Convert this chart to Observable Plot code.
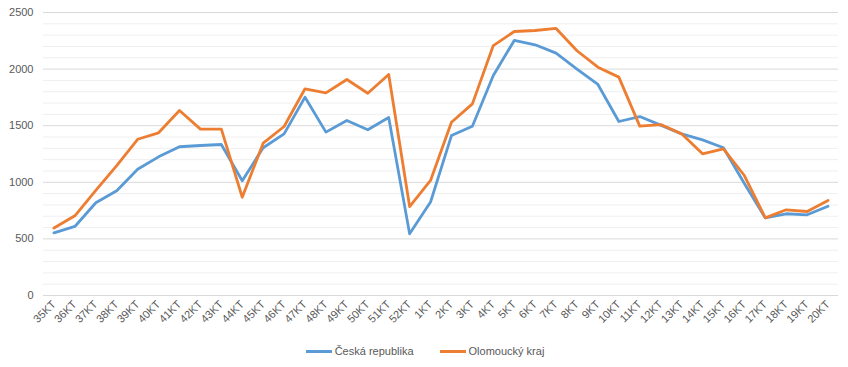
<!DOCTYPE html>
<html>
<head>
<meta charset="utf-8">
<script src="https://cdn.jsdelivr.net/npm/d3@7"></script>
<script src="https://cdn.jsdelivr.net/npm/@observablehq/plot@0.6"></script>
<style>
  body { margin: 0; background: #fff; font-family: "Liberation Sans", Arial, sans-serif; }
  #legend { display: flex; justify-content: center; align-items: center; gap: 26px; height: 32px; font-size: 11px; color: #595959; padding-left: 2px; }
  #legend .item { display: flex; align-items: center; }
  #legend .swatch { width: 26px; height: 3px; margin-right: 3px; }
</style>
</head>
<body>
<div id="chart"></div>
<div id="legend"></div>
<script>
const categories = ["35KT","36KT","37KT","38KT","39KT","40KT","41KT","42KT","43KT","44KT","45KT","46KT","47KT","48KT","49KT","50KT","51KT","52KT","1KT","2KT","3KT","4KT","5KT","6KT","7KT","8KT","9KT","10KT","11KT","12KT","13KT","14KT","15KT","16KT","17KT","18KT","19KT","20KT"];
const ceskaRepublika = [554,610,819,925,1115,1225,1314,1325,1334,1014,1305,1428,1752,1443,1546,1464,1572,545,826,1413,1495,1943,2253,2215,2141,2000,1864,1537,1581,1505,1428,1375,1305,990,686,722,713,789];
const olomouckyKraj = [596,704,928,1148,1380,1437,1634,1470,1470,868,1346,1493,1826,1790,1908,1787,1952,786,1016,1531,1693,2208,2332,2341,2359,2162,2017,1929,1496,1510,1428,1252,1296,1060,686,757,742,839];
const seriesNames = ["Česká republika","Olomoucký kraj"];
const seriesColors = ["#5B9BD5","#ED7D31"];
const majorTicks = [0,500,1000,1500,2000,2500];
const minorTicks = d3.range(0, 2501, 100).filter(v => v % 500 !== 0);

const data = [];
categories.forEach((c, i) => {
  data.push({kt: c, value: ceskaRepublika[i], series: seriesNames[0]});
  data.push({kt: c, value: olomouckyKraj[i], series: seriesNames[1]});
});

const chart = Plot.plot({
  width: 848,
  height: 335,
  marginLeft: 43,
  marginRight: 10,
  marginTop: 12,
  marginBottom: 40,
  style: {fontFamily: "'Liberation Sans', Arial, sans-serif", fontSize: "11px", color: "#595959", background: "#fff"},
  x: {type: "point", domain: categories, padding: 0.5, label: null},
  y: {domain: [0, 2500], label: null},
  color: {domain: seriesNames, range: seriesColors},
  marks: [
    Plot.ruleY(minorTicks, {stroke: "#efefef", strokeWidth: 1}),
    Plot.ruleY(majorTicks, {stroke: "#d9d9d9", strokeWidth: 1}),
    Plot.axisY({ticks: majorTicks, tickFormat: d => String(d), tickSize: 0, tickPadding: 10, label: null, fill: "#595959"}),
    Plot.axisX({tickSize: 0, tickPadding: 7, tickRotate: -45, label: null, fill: "#595959"}),
    Plot.line(data, {x: "kt", y: "value", z: "series", stroke: "series", strokeWidth: 2.8, strokeLinejoin: "round", strokeLinecap: "round"})
  ]
});
document.getElementById("chart").appendChild(chart);

const legend = document.getElementById("legend");
seriesNames.forEach((n, i) => {
  const item = document.createElement("div");
  item.className = "item";
  const sw = document.createElement("span");
  sw.className = "swatch";
  sw.style.background = seriesColors[i];
  const t = document.createElement("span");
  t.textContent = n;
  item.appendChild(sw);
  item.appendChild(t);
  legend.appendChild(item);
});
</script>
</body>
</html>
